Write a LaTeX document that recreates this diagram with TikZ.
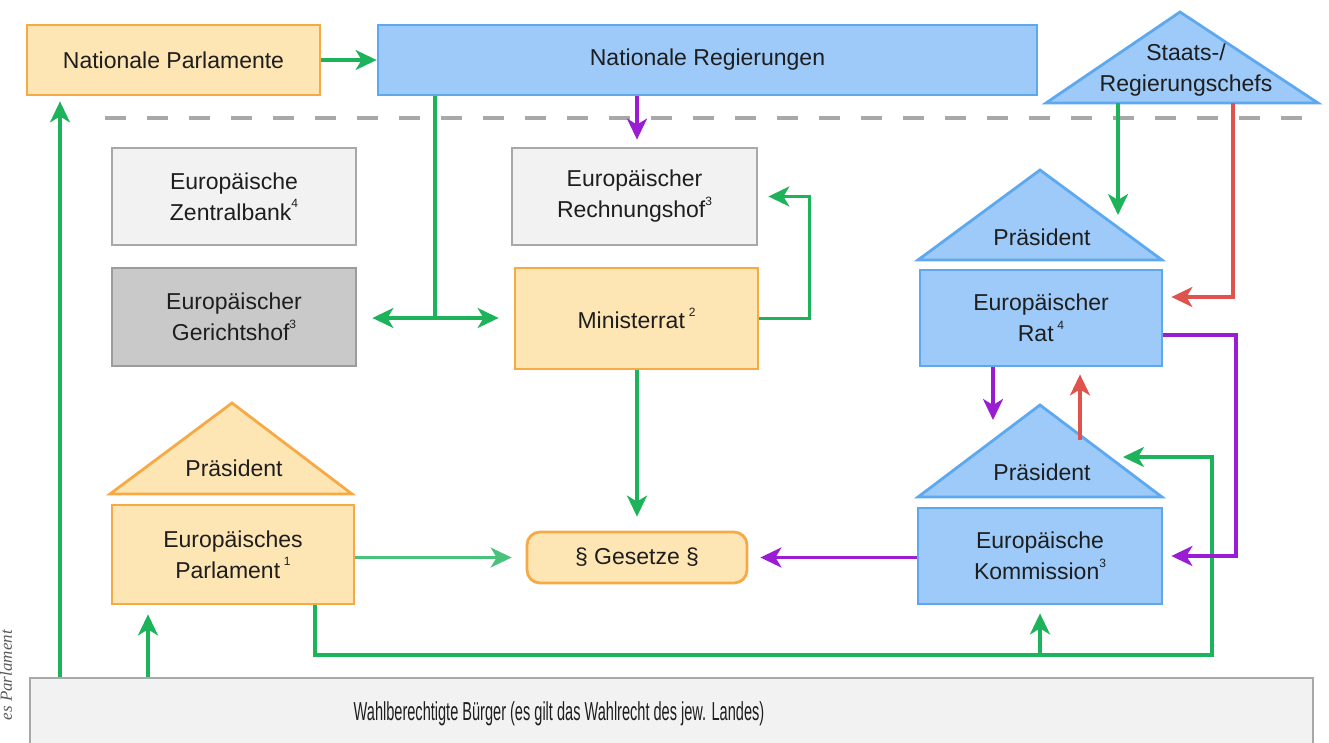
\documentclass[tikz,border=0pt]{standalone}
\usepackage{fontspec}
\setmainfont{Liberation Sans}
\newfontfamily\narrowfont[FakeStretch=0.56]{Liberation Sans}
\newfontfamily\sideserif{Liberation Serif}
\usetikzlibrary{arrows.meta,calc}
\definecolor{ofill}{HTML}{FDE5B4}
\definecolor{oline}{HTML}{F5AA45}
\definecolor{bfill}{HTML}{9DCAF8}
\definecolor{bline}{HTML}{5DA8EE}
\definecolor{lgfill}{HTML}{F2F2F2}
\definecolor{lgline}{HTML}{A8A8A8}
\definecolor{dgfill}{HTML}{C9C9C9}
\definecolor{dgline}{HTML}{9C9C9C}
\definecolor{grn}{HTML}{1CB35A}
\definecolor{pur}{HTML}{9B1DD3}
\definecolor{redc}{HTML}{E0524C}
\definecolor{txt}{HTML}{1E1E1E}
\newcommand\supnum[1]{\raisebox{0.55em}{\fontsize{12}{12}\selectfont #1}}
\begin{document}
\begin{tikzpicture}[x=1pt,y=-1pt,
  box/.style={draw,line width=2.8pt,inner sep=0pt,align=center,text=txt,
    font=\fontsize{23}{31}\selectfont},
  obox/.style={box,fill=ofill,draw=oline},
  bbox/.style={box,fill=bfill,draw=bline},
  lgbox/.style={box,fill=lgfill,draw=lgline},
  dgbox/.style={box,fill=dgfill,draw=dgline},
  otri/.style={fill=ofill,draw=oline,line width=2.8pt},
  btri/.style={fill=bfill,draw=bline,line width=2.8pt},
  tlabel/.style={text=txt,align=center,inner sep=0pt,font=\fontsize{23}{31}\selectfont},
  arr/.style={-{Stealth[length=21pt,width=20pt,inset=6pt]},line width=3.2pt},
  garr/.style={arr,draw=grn},
  parr/.style={arr,draw=pur},
  rarr/.style={arr,draw=redc},
  gline/.style={line width=3.2pt,draw=grn},
  dashline/.style={line width=4.5pt,draw=lgline,dash pattern=on 21pt off 21pt}
]
\useasboundingbox (0,0) rectangle (1329,743);
\clip (0,0) rectangle (1329,743);

% dashed separator
\draw[dashline] (105,118) -- (1318,118);

% top row
\node[obox,minimum width=293pt,minimum height=70pt] (np) at (173.5,60) {Nationale Parlamente};
\node[bbox,minimum width=659pt,minimum height=70pt] (nr) at (707.5,60) {Nationale Regierungen};
\draw[btri] (1046,103) -- (1180,12) -- (1318,103) -- cycle;
\node[tlabel] (st) at (1186,70) {Staats-/\\Regierungschefs};

% left column
\node[lgbox,minimum width=244pt,minimum height=97pt] (ezb) at (234,196.5) {Europäische\\Zentralbank\supnum{4}};
\node[dgbox,minimum width=244pt,minimum height=98pt] (egh) at (234,317) {Europäischer\\Gerichtshof\supnum{3}};

% middle column
\node[lgbox,minimum width=245pt,minimum height=97pt] (erh) at (634.5,196.5) {Europäischer\\Rechnungshof\supnum{3}};
\node[obox,minimum width=243pt,minimum height=101pt] (mr) at (636.5,318.5) {Ministerrat\,\supnum{2}};
\node[obox,rounded corners=13pt,minimum width=220pt,minimum height=51pt] (gs) at (637,557.5) {§ Gesetze §};

% Europaeisches Parlament
\draw[otri] (110,494) -- (232,403) -- (352,494) -- cycle;
\node[tlabel] (ept) at (234,468) {Präsident};
\node[obox,minimum width=242pt,minimum height=99pt] (ep) at (233,554.5) {Europäisches\\Parlament\,\supnum{1}};

% Europaeischer Rat
\draw[btri] (918,260) -- (1040,170) -- (1162,260) -- cycle;
\node[tlabel] (ert) at (1042,237) {Präsident};
\node[bbox,minimum width=242pt,minimum height=96pt] (er) at (1041,318) {Europäischer\\Rat\,\supnum{4}};

% Kommission
\draw[btri] (918,497) -- (1040,405) -- (1162,497) -- cycle;
\node[tlabel] (ekt) at (1042,472) {Präsident};
\node[bbox,minimum width=244pt,minimum height=96pt] (ek) at (1040,556) {Europäische\\Kommission\supnum{3}};

% citizens
\node[lgbox,minimum width=1283pt,minimum height=90pt] (bg) at (671.5,723) {};
\node[text=txt,inner sep=0pt,font=\narrowfont\fontsize{26}{30}\selectfont] (bgt) at (559,714) {Wahlberechtigte Bürger (es gilt das Wahlrecht des jew. Landes)};

% side text
\node[rotate=90,anchor=base east,inner sep=0pt,text=black!65,font=\sideserif\itshape\fontsize{17}{20}\selectfont] (side) at (12,630) {es Parlament};

% coordinates
\coordinate (j1) at (435,318);
\coordinate (w1) at (315,655);
\coordinate (w2) at (1212,655);
\coordinate (kin) at (1123,457);
\coordinate (s1) at (1118,103);
\coordinate (ertri) at (1118,215);
\coordinate (s2) at (1233,103);
\coordinate (r1) at (1233,297);
\coordinate (p1) at (1236,335);
\coordinate (q1) at (993,420);
\coordinate (kr) at (1080,440);
\coordinate (l1) at (60,0);
\coordinate (l2) at (148,0);

% connectors
\draw[garr] (np.east) -- (nr.west);
\draw[gline] (nr.south -| j1) -- (j1);
\draw[garr,shorten >=15pt] (j1) -- (egh.east |- j1);
\draw[garr,shorten >=15pt] (j1) -- (mr.west |- j1);
\draw[parr,shorten >=7pt] (nr.south -| gs) -- (erh.north -| gs);
\draw[garr,shorten >=10pt] (mr.east) -- ++(50,0) |- (erh.east);
\draw[garr,shorten >=14pt] (mr.south -| gs) -- (gs.north);
\draw[arr,draw=grn!80,line width=2.4pt,shorten >=14pt] (ep.east |- gs) -- (gs.west);
\draw[parr,shorten >=12pt] (ek.west |- gs) -- (gs.east);
\draw[garr] (ep.south -| w1) -- (w1) -- (w2) |- (kin);
\draw[garr,shorten >=8pt] (ek.south |- w1) -- (ek.south);
\draw[garr,shorten >=5pt] (bg.north -| l1) -- (np.south -| l1);
\draw[garr,shorten >=9pt] (bg.north -| l2) -- (ep.south -| l2);
\draw[garr] (s1) -- (ertri);
\draw[rarr,shorten >=8pt] (s2) -- (r1) -- (er.east |- r1);
\draw[parr,shorten >=8pt] (er.east |- p1) -- (p1) |- (ek.east);
\draw[parr] (er.south -| q1) -- (q1);
\draw[rarr,shorten >=7pt] (kr) -- (er.south -| kr);
\end{tikzpicture}
\end{document}
